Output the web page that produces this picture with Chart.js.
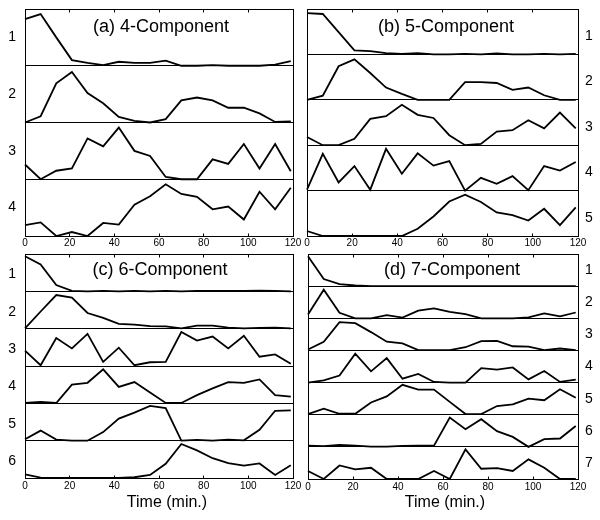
<!DOCTYPE html>
<html>
<head>
<meta charset="utf-8">
<script src="https://cdn.jsdelivr.net/npm/chart.js@4.4.1/dist/chart.umd.min.js"></script>
<style>
html, body { margin: 0; padding: 0; background: #fff; }
#wrap { position: relative; width: 600px; height: 520px; background: #fff; }
#wrap canvas { position: absolute; left: 0; top: 0; }
</style>
</head>
<body>
<div id="wrap">
  <canvas id="pa" width="600" height="520"></canvas>
  <canvas id="pb" width="600" height="520"></canvas>
  <canvas id="pc" width="600" height="520"></canvas>
  <canvas id="pd" width="600" height="520"></canvas>
</div>
<script>
// ---------- data ----------
const timeMin = [0, 7, 14, 21, 28, 35, 42, 49, 56, 63, 70, 77, 84, 91, 98, 105, 112, 119];
const xTickValues = [0, 20, 40, 60, 80, 100, 120];
const panelTitles = ['(a) 4-Component', '(b) 5-Component', '(c) 6-Component', '(d) 7-Component'];
const xAxisTitle = 'Time (min.)';

// (a) 4-Component
const a1 = [0.82, 0.91, 0.50, 0.10, 0.05, 0.01, 0.07, 0.05, 0.05, 0.09, 0, 0, 0.01, 0, 0, 0, 0.02, 0.08];
const a2 = [0, 0.11, 0.69, 0.89, 0.52, 0.34, 0.10, 0.03, 0, 0.06, 0.39, 0.44, 0.39, 0.26, 0.26, 0.16, 0.01, 0.02];
const a3 = [0.26, 0, 0.15, 0.19, 0.72, 0.58, 0.91, 0.50, 0.41, 0.04, 0, 0, 0.35, 0.27, 0.62, 0.19, 0.62, 0.14];
const a4 = [0.19, 0.24, 0, 0.07, 0, 0.23, 0.20, 0.55, 0.70, 0.91, 0.74, 0.69, 0.47, 0.52, 0.29, 0.78, 0.47, 0.85];

// (b) 5-Component
const b1 = [0.91, 0.89, 0.49, 0.09, 0.07, 0.03, 0.01, 0.03, 0, 0, 0.01, 0, 0.02, 0, 0, 0.01, 0, 0.01];
const b2 = [0, 0.09, 0.74, 0.89, 0.59, 0.27, 0.13, 0, 0, 0, 0.39, 0.39, 0.37, 0.22, 0.27, 0.10, 0, 0];
const b3 = [0.18, 0, 0, 0.14, 0.58, 0.64, 0.89, 0.67, 0.60, 0.22, 0, 0.03, 0.30, 0.33, 0.55, 0.37, 0.72, 0.37];
const b4 = [0.02, 0.81, 0.18, 0.54, 0.02, 0.92, 0.37, 0.82, 0.55, 0.65, 0, 0.28, 0.15, 0.32, 0.01, 0.54, 0.44, 0.63];
const b5 = [0.11, 0, 0, 0, 0, 0, 0, 0.16, 0.43, 0.76, 0.91, 0.75, 0.52, 0.46, 0.34, 0.60, 0.24, 0.63];

// (c) 6-Component
const c1 = [0.94, 0.72, 0.17, 0.01, 0, 0.01, 0, 0.01, 0, 0.01, 0, 0.01, 0.01, 0.01, 0.01, 0.02, 0.01, 0];
const c2 = [0.01, 0.46, 0.90, 0.83, 0.42, 0.29, 0.13, 0.11, 0.07, 0.06, 0.01, 0.08, 0.08, 0.03, 0.01, 0.02, 0.03, 0.01];
const c3 = [0.41, 0.02, 0.75, 0.47, 0.86, 0.11, 0.49, 0.02, 0.10, 0.11, 0.91, 0.68, 0.79, 0.47, 0.81, 0.25, 0.31, 0.06];
const c4 = [0.01, 0.04, 0.01, 0.50, 0.55, 0.91, 0.44, 0.57, 0.29, 0.01, 0.01, 0.22, 0.40, 0.57, 0.55, 0.64, 0.22, 0.18];
const c5 = [0.04, 0.27, 0.03, 0, 0, 0.23, 0.59, 0.75, 0.93, 0.87, 0, 0.02, 0, 0.03, 0.01, 0.29, 0.80, 0.81];
const c6 = [0.10, 0.01, 0, 0, 0, 0, 0, 0.02, 0.08, 0.38, 0.91, 0.74, 0.53, 0.40, 0.33, 0.39, 0.08, 0.34];

// (d) 7-Component
const d1 = [0.93, 0.22, 0.06, 0.02, 0, 0, 0, 0, 0, 0, 0, 0, 0, 0, 0, 0, 0, 0];
const d2 = [0.12, 0.89, 0.17, 0, 0, 0.10, 0.02, 0.24, 0.31, 0.20, 0.13, 0, 0, 0, 0.03, 0.15, 0.06, 0.18];
const d3 = [0.03, 0.27, 0.88, 0.85, 0.57, 0.27, 0.22, 0.01, 0.01, 0.01, 0.10, 0.29, 0.30, 0.13, 0.12, 0.01, 0.06, 0.01];
const d4 = [0, 0.07, 0.22, 0.90, 0.35, 0.76, 0.12, 0.27, 0.02, 0, 0, 0.45, 0.40, 0.47, 0.10, 0.36, 0.02, 0.09];
const d5 = [0.02, 0.19, 0.03, 0.03, 0.38, 0.57, 0.93, 0.78, 0.78, 0.40, 0.02, 0.02, 0.27, 0.32, 0.50, 0.45, 0.79, 0.53];
const d6 = [0.04, 0.02, 0.06, 0.04, 0.01, 0.01, 0.03, 0.04, 0.04, 0.91, 0.55, 0.86, 0.49, 0.31, 0, 0.24, 0.26, 0.65];
const d7 = [0.25, 0, 0.42, 0.30, 0.35, 0, 0, 0, 0.25, 0, 0.92, 0.32, 0.34, 0.25, 0.61, 0.35, 0, 0];

// ---------- layout / style ----------
const FONT = '"Liberation Sans", Arial, Helvetica, sans-serif';

const panels = [
  { id: 'pa', title: panelTitles[0], comps: [a1, a2, a3, a4], side: 'left',
    pad: { left: 0, right: 307, top: 9, bottom: 268 }, xAxisH: 16, tickPad: 1,
    titlePos: [161, 27], labelShift: 0, xTitlePos: null },
  { id: 'pb', title: panelTitles[1], comps: [b1, b2, b3, b4, b5], side: 'right',
    pad: { left: 307, right: 0, top: 9, bottom: 268 }, xAxisH: 16, tickPad: 1,
    titlePos: [446, 27], labelShift: 0.1, xTitlePos: null },
  { id: 'pc', title: panelTitles[2], comps: [c1, c2, c3, c4, c5, c6], side: 'left',
    pad: { left: 0, right: 307, top: 254, bottom: 0 }, xAxisH: 42, tickPad: 2,
    titlePos: [160, 270], labelShift: 0.05, xTitlePos: [167, 503] },
  { id: 'pd', title: panelTitles[3], comps: [d1, d2, d3, d4, d5, d6, d7], side: 'right',
    pad: { left: 308, right: 0, top: 254, bottom: 0 }, xAxisH: 41, tickPad: 2,
    titlePos: [452, 270], labelShift: 0, xTitlePos: [445, 503] }
];

function alignPx(v, w) { return Math.round(v - w / 2) + w / 2; }

const framePlugin = {
  id: 'panelFrame',
  afterDatasetsDraw(chart, args, opts) {
    const { ctx, chartArea: a, scales } = chart;
    const xs = scales.x;
    ctx.save();
    ctx.strokeStyle = '#000';
    ctx.lineWidth = 1;
    const L = alignPx(a.left, 1), R = alignPx(a.right, 1), T = alignPx(a.top, 1), B = alignPx(a.bottom, 1);
    ctx.strokeRect(L, T, R - L, B - T);
    ctx.beginPath();
    xTickValues.forEach(v => {
      if (v === xs.min || v === xs.max) return;
      const px = alignPx(xs.getPixelForValue(v), 1);
      ctx.moveTo(px, T); ctx.lineTo(px, T + 3);
      ctx.moveTo(px, B); ctx.lineTo(px, B - 3);
    });
    ctx.stroke();
    ctx.fillStyle = '#000';
    ctx.textAlign = 'center';
    ctx.textBaseline = 'middle';
    ctx.font = '18px ' + FONT;
    ctx.fillText(opts.title, opts.titlePos[0], opts.titlePos[1]);
    if (opts.xTitlePos) {
      ctx.font = '16px ' + FONT;
      ctx.fillText(xAxisTitle, opts.xTitlePos[0], opts.xTitlePos[1]);
    }
    ctx.restore();
  }
};

panels.forEach(p => {
  const N = p.comps.length;
  const datasets = p.comps.map((vals, i) => ({
    label: String(i + 1),
    data: vals.map((v, k) => ({ x: timeMin[k], y: v + (N - 1 - i) })),
    borderColor: '#000',
    borderWidth: 1.8,
    pointRadius: 0,
    tension: 0,
    fill: false,
    clip: 3
  }));
  new Chart(document.getElementById(p.id), {
    type: 'line',
    data: { datasets },
    plugins: [framePlugin],
    options: {
      responsive: false,
      animation: false,
      devicePixelRatio: 1,
      events: [],
      layout: { padding: p.pad },
      plugins: {
        legend: { display: false },
        tooltip: { enabled: false },
        title: { display: false },
        panelFrame: { title: p.title, titlePos: p.titlePos, xTitlePos: p.xTitlePos }
      },
      scales: {
        x: {
          type: 'linear', min: 0, max: 120,
          afterBuildTicks: s => { s.ticks = xTickValues.map(v => ({ value: v })); },
          afterFit: s => { s.height = p.xAxisH; s.paddingLeft = 0; s.paddingRight = 0; },
          grid: { display: false, drawTicks: false },
          border: { display: false },
          ticks: { color: '#000', font: { family: FONT, size: 10 }, padding: p.tickPad,
                   maxRotation: 0, autoSkip: false }
        },
        y: {
          type: 'linear', position: p.side, min: 0, max: N,
          afterBuildTicks: s => {
            const t = [];
            for (let j = 0; j <= N; j++) t.push({ value: j });
            for (let j = 0; j < N; j++) t.push({ value: j + 0.5 - p.labelShift });
            t.sort((u, w) => u.value - w.value);
            s.ticks = t;
          },
          afterFit: s => { s.width = p.side === 'left' ? 25 : 22; s.paddingTop = 0; s.paddingBottom = 0; },
          grid: {
            drawTicks: false,
            lineWidth: 1,
            color: c => (c.tick && Number.isInteger(c.tick.value)) ? '#000' : 'rgba(0,0,0,0)'
          },
          border: { display: false },
          ticks: {
            color: '#000', font: { family: FONT, size: 14 },
            padding: p.side === 'left' ? 9 : 7, autoSkip: false,
            callback: v => Number.isInteger(v) ? '' : String(N - Math.floor(v))
          }
        }
      }
    }
  });
});
</script>
</body>
</html>
